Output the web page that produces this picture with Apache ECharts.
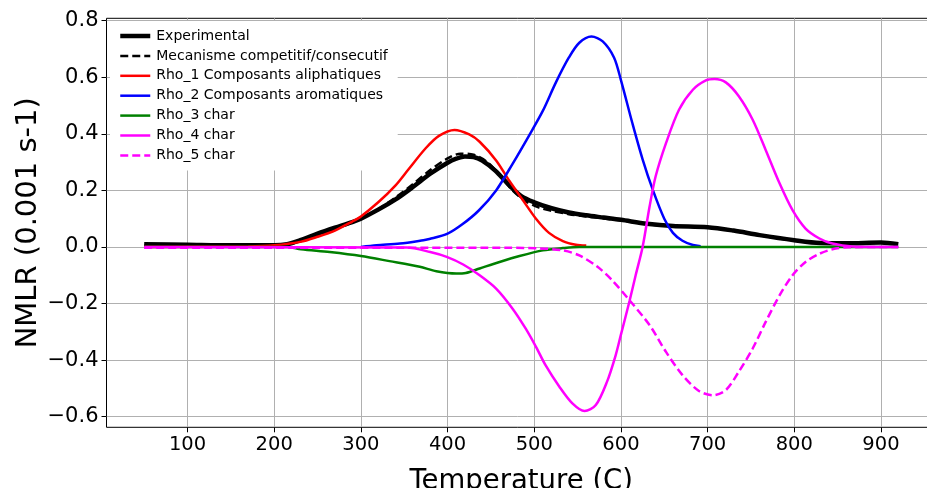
<!DOCTYPE html>
<html>
<head>
<meta charset="utf-8">
<title>NMLR</title>
<script src="https://cdn.jsdelivr.net/npm/echarts@6.0.0/dist/echarts.min.js"></script>
<style>
  html, body { margin: 0; padding: 0; background: #fff; }
  #mainChart { width: 927px; height: 488px; }
</style>
</head>
<body>
<div id="mainChart"></div>
<script>
// valeurs (Temperature en C, NMLR en 0.001 s-1)
var expT = [50, 100, 150, 200, 215, 230, 250, 270, 290, 300, 320, 340, 360, 380, 400, 410, 420, 430, 440, 455, 470, 485, 500, 520, 540, 560, 580, 600, 630, 660, 700, 730, 760, 800, 830, 860, 900, 920];
var expV = [0.01, 0.008, 0.006, 0.006, 0.01, 0.024, 0.047, 0.068, 0.088, 0.1, 0.132, 0.168, 0.212, 0.259, 0.298, 0.312, 0.32, 0.318, 0.305, 0.27, 0.222, 0.18, 0.158, 0.137, 0.122, 0.112, 0.104, 0.096, 0.082, 0.074, 0.07, 0.058, 0.042, 0.024, 0.014, 0.013, 0.016, 0.01];

var modelT = [50, 200, 215, 230, 250, 270, 290, 300, 320, 340, 360, 380, 400, 415, 430, 445, 460, 475, 490, 505, 520, 540, 560, 600, 630, 660, 700, 730, 760, 800, 830, 860, 900, 920];
var modelV = [0.004, 0.005, 0.009, 0.02, 0.04, 0.063, 0.087, 0.1, 0.134, 0.175, 0.222, 0.272, 0.313, 0.33, 0.326, 0.302, 0.255, 0.2, 0.162, 0.14, 0.128, 0.116, 0.108, 0.094, 0.081, 0.073, 0.069, 0.057, 0.041, 0.023, 0.013, 0.012, 0.015, 0.01];

var rho1T = [50, 170, 200, 230, 250, 270, 290, 300, 320, 340, 355, 375, 390, 408, 425, 437, 456, 471, 487, 502, 517, 533, 548, 560];
var rho1V = [0, 0.002, 0.006, 0.018, 0.036, 0.058, 0.09, 0.108, 0.158, 0.218, 0.275, 0.35, 0.393, 0.414, 0.398, 0.372, 0.306, 0.235, 0.165, 0.1, 0.05, 0.021, 0.008, 0.005];

var rho2T = [300, 318, 345, 372, 379, 400, 417, 436, 456, 475, 494, 510, 525, 540, 552, 566, 579, 592, 600, 613, 625, 637, 650, 660, 671, 683, 692];
var rho2V = [0, 0.006, 0.012, 0.024, 0.028, 0.047, 0.08, 0.129, 0.2, 0.294, 0.394, 0.482, 0.582, 0.67, 0.722, 0.744, 0.727, 0.67, 0.59, 0.44, 0.31, 0.2, 0.1, 0.05, 0.022, 0.007, 0.003];

var rho3T = [50, 215, 231, 264, 300, 333, 368, 387, 410, 421, 437, 460, 483, 510, 533, 552, 600, 700, 800, 920];
var rho3V = [0, 0, -0.008, -0.018, -0.032, -0.05, -0.07, -0.086, -0.094, -0.092, -0.076, -0.053, -0.032, -0.012, -0.004, 0, 0, 0, 0, 0];

var rho4T = [50, 353, 380, 399, 418, 437, 456, 475, 490, 502, 513, 529, 544, 558, 571, 584, 594, 600, 610, 617, 625, 633, 640, 652, 667, 683, 698, 708, 721, 736, 752, 767, 783, 798, 813, 829, 844, 867, 920];
var rho4V = [0, -0.002, -0.018, -0.035, -0.062, -0.1, -0.147, -0.218, -0.288, -0.353, -0.418, -0.494, -0.553, -0.58, -0.559, -0.476, -0.382, -0.31, -0.19, -0.1, 0, 0.142, 0.249, 0.367, 0.485, 0.556, 0.589, 0.594, 0.582, 0.533, 0.45, 0.343, 0.225, 0.13, 0.065, 0.03, 0.012, 0.002, 0];

var rho5T = [50, 470, 506, 533, 552, 573, 590, 609, 633, 652, 671, 690, 706, 721, 736, 752, 767, 783, 798, 813, 829, 844, 863, 920];
var rho5V = [-0.003, -0.003, -0.005, -0.012, -0.03, -0.07, -0.118, -0.185, -0.276, -0.371, -0.453, -0.509, -0.524, -0.506, -0.441, -0.359, -0.265, -0.171, -0.1, -0.053, -0.024, -0.008, -0.001, 0];

var seriesNames = ['Experimental', 'Mecanisme competitif/consecutif', 'Rho_1 Composants aliphatiques', 'Rho_2 Composants aromatiques', 'Rho_3 char', 'Rho_4 char', 'Rho_5 char'];

// limites des axes (comme matplotlib avec ses marges)
var xMin = 6.5, xMax = 963.5;
var yMin = -0.6375, yMax = 0.8085;
var xTickMin = 100, xTickMax = 900, xTickStep = 100;
var yTickMin = -0.6, yTickMax = 0.8, yTickStep = 0.2;

// cadre du graphique en pixels (le bord droit sort de l'image)
var W = 927, H = 488;
var plotLeft = 106.5, plotRight = 936, plotTop = 18.3, plotBottom = 427.3;

function px(x) {
    return plotLeft + (x - xMin) / (xMax - xMin) * (plotRight - plotLeft);
}
function py(y) {
    return plotTop + (yMax - y) / (yMax - yMin) * (plotBottom - plotTop);
}

function zip(xs, ys) {
    var out = [];
    for (var i = 0; i < xs.length; i++) {
        out.push([xs[i], ys[i]]);
    }
    return out;
}

function lineSeries(name, xs, ys, color, width, dashed) {
    return {
        name: name,
        type: 'line',
        xAxisIndex: 0,
        yAxisIndex: 0,
        data: zip(xs, ys),
        symbol: 'none',
        showSymbol: false,
        smooth: 0.3,
        animation: false,
        lineStyle: { color: color, width: width, type: dashed ? [8, 4] : 'solid' },
        itemStyle: { color: color }
    };
}

var FONT = 'DejaVu Sans';
var gridColor = '#b0b0b0';

var myChart = echarts.init(document.getElementById('mainChart'), null, { renderer: 'canvas' });

myChart.setOption({
    backgroundColor: '#fff',
    animation: false,
    legend: {
        orient: 'vertical',
        left: 110,
        top: 21,
        padding: [8, 10, 8, 8],
        backgroundColor: '#fff',
        itemWidth: 30,
        itemHeight: 14,
        itemGap: 5.9,
        itemStyle: { color: 'rgba(0,0,0,0)', borderColor: 'rgba(0,0,0,0)', borderWidth: 0 },
        lineStyle: { width: 'inherit' },
        textStyle: { fontFamily: FONT, fontSize: 14, color: '#000', padding: [0, 0, 0, 1] },
        data: seriesNames
    },
    grid: [
        // cadre principal, les courbes
        { left: plotLeft, width: plotRight - plotLeft, top: plotTop, height: plotBottom - plotTop,
          show: true, borderColor: '#000', borderWidth: 1, outerBoundsMode: 'none', containLabel: false },
        // graduations en x
        { left: px(xTickMin), width: px(xTickMax) - px(xTickMin), top: plotTop, height: plotBottom - plotTop,
          outerBoundsMode: 'none', containLabel: false },
        // graduations en y
        { left: plotLeft, width: plotRight - plotLeft, top: py(yTickMax), height: py(yTickMin) - py(yTickMax),
          outerBoundsMode: 'none', containLabel: false }
    ],
    xAxis: [
        {
            gridIndex: 0, type: 'value', min: xMin, max: xMax,
            axisLine: { show: false }, axisTick: { show: false }, axisLabel: { show: false }, splitLine: { show: false },
            name: 'Temperature (C)', nameLocation: 'middle', nameGap: 41,
            nameTextStyle: { fontFamily: FONT, fontSize: 27.5, color: '#000' }
        },
        {
            gridIndex: 1, type: 'value', min: xTickMin, max: xTickMax, interval: xTickStep,
            axisLine: { show: false },
            axisTick: { show: true, inside: false, length: 5, lineStyle: { color: '#000', width: 1 } },
            axisLabel: { show: true, margin: 8, fontFamily: FONT, fontSize: 19.5, color: '#000' },
            splitLine: { show: true, lineStyle: { color: gridColor, width: 1 } }
        },
        { gridIndex: 2, type: 'value', min: xMin, max: xMax, show: false }
    ],
    yAxis: [
        {
            gridIndex: 0, type: 'value', min: yMin, max: yMax,
            axisLine: { show: false }, axisTick: { show: false }, axisLabel: { show: false }, splitLine: { show: false },
            name: 'NMLR (0.001 s-1)', nameLocation: 'middle', nameRotate: 90, nameGap: 64,
            nameTextStyle: { fontFamily: FONT, fontSize: 29, color: '#000' }
        },
        { gridIndex: 1, type: 'value', min: 0, max: 1, show: false },
        {
            gridIndex: 2, type: 'value', min: yTickMin, max: yTickMax, interval: yTickStep,
            axisLine: { show: false },
            axisTick: { show: true, inside: false, length: 5, lineStyle: { color: '#000', width: 1 } },
            axisLabel: {
                show: true, margin: 8, fontFamily: FONT, fontSize: 21, color: '#000',
                formatter: function (v) { return v.toFixed(1).replace('-', '\u2212'); }
            },
            splitLine: { show: true, lineStyle: { color: gridColor, width: 1 } }
        }
    ],
    series: [
        lineSeries(seriesNames[0], expT, expV, '#000000', 4.5, false),
        lineSeries(seriesNames[1], modelT, modelV, '#000000', 2.5, true),
        lineSeries(seriesNames[2], rho1T, rho1V, '#ff0000', 2.5, false),
        lineSeries(seriesNames[3], rho2T, rho2V, '#0000ff', 2.5, false),
        lineSeries(seriesNames[4], rho3T, rho3V, '#008000', 2.5, false),
        lineSeries(seriesNames[5], rho4T, rho4V, '#ff00ff', 2.5, false),
        lineSeries(seriesNames[6], rho5T, rho5V, '#ff00ff', 2.5, true)
    ]
});
</script>
</body>
</html>
